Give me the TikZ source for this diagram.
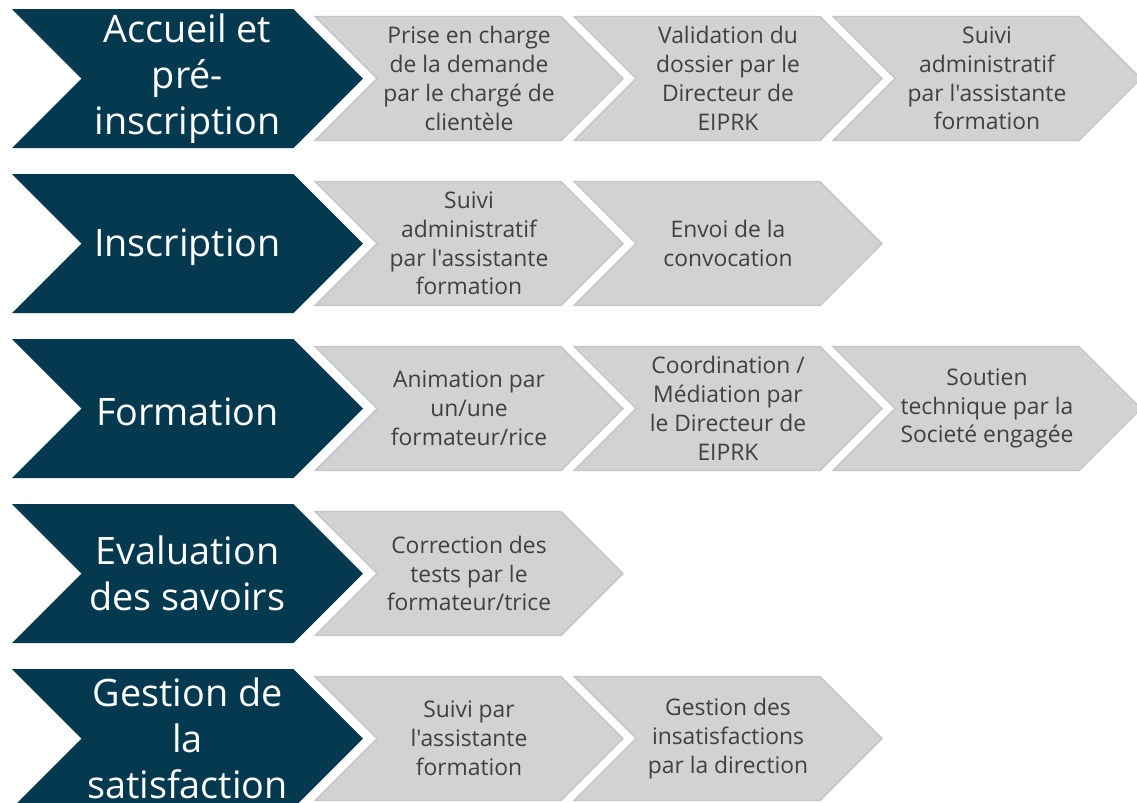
\documentclass[tikz,border=0pt]{standalone}
\usepackage{fontspec}
\setmainfont{Open Sans}[Ligatures=TeXOff]
\usepackage{tikz}
\usetikzlibrary{positioning,shapes.symbols}

\definecolor{phase}{RGB}{4,57,79}
\definecolor{taskfill}{RGB}{209,210,212}
\definecolor{taskline}{RGB}{196,197,199}
\definecolor{tasktext}{RGB}{64,64,64}

\tikzset{
	phase/.style={signal, signal from=west, signal to=east, signal pointer angle=90,
		fill=phase, draw=none, minimum width=351*0.02cm, minimum height=139*0.02cm,
		inner sep=0pt, text=white, align=center,
		font=\fontsize{21.5pt}{26.1pt}\selectfont,
		execute at begin node={\rule{0pt}{0.7cm}}},
	task/.style={signal, signal from=west, signal to=east, signal pointer angle=90,
		fill=taskfill, draw=taskline, line width=0.8pt,
		minimum width=308*0.02cm, minimum height=124*0.02cm,
		inner sep=0pt, text=tasktext, align=center,
		font=\fontsize{13pt}{16.4pt}\selectfont},
}

\begin{document}
\begin{tikzpicture}[x=0.02cm, y=-0.02cm]
		\useasboundingbox (0,0) rectangle (1137,802);
		
		% accueil
		\node [phase] (p1) at (187.5,78.5) {Accueil et\\pré-\\inscription};
		\node [task] (t11) at (469,78.5) {Prise en charge\\de la demande\\par le chargé de\\clientèle};
		\node [task, shift={(259,0)}] (t12) at (t11.center) {Validation du\\dossier par le\\Directeur de\\EIPRK};
		\node [task, shift={(259,0)}] (t13) at (t12.center) {Suivi\\administratif\\par l'assistante\\formation};
		
		% inscription
		\node [phase] (p2) at (187.5,243.5) {Inscription};
		\node [task] (t21) at (469,243.5) {Suivi\\administratif\\par l'assistante\\formation};
		\node [task, shift={(259,0)}] (t22) at (t21.center) {Envoi de la\\convocation};
		
		% formation
		\node [phase] (p3) at (187.5,408.5) {Formation};
		\node [task] (t31) at (469,408.5) {Animation par\\un/une\\formateur/rice};
		\node [task, shift={(259,0)}] (t32) at (t31.center) {Coordination /\\Médiation par\\le Directeur de\\EIPRK};
		\node [task, shift={(259,0)}] (t33) at (t32.center) {Soutien\\technique par la\\Societé engagée};
		
		% evaluation
		\node [phase] (p4) at (187.5,573.5) {Evaluation\\des savoirs};
		\node [task] (t41) at (469,573.5) {Correction des\\tests par le\\formateur/trice};
		
		% satisfaction
		\node [phase] (p5) at (187.5,738.5) {Gestion de\\la\\satisfaction};
		\node [task] (t51) at (469,738.5) {Suivi par\\l'assistante\\formation};
		\node [task, shift={(259,0)}] (t52) at (t51.center) {Gestion des\\insatisfactions\\par la direction};
	\end{tikzpicture}
\end{document}
